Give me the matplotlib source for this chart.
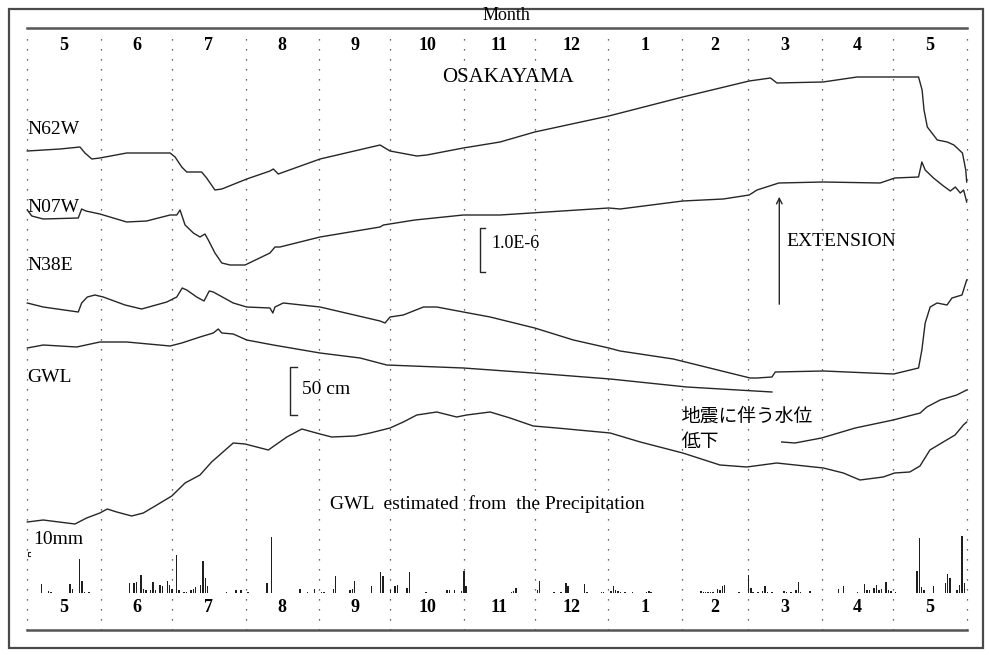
import numpy as np
import matplotlib
matplotlib.use("Agg")
import matplotlib.pyplot as plt
from matplotlib.patches import Rectangle

# month axis (May .. next May), days per month
month_labels = ["5", "6", "7", "8", "9", "10", "11", "12", "1", "2", "3", "4", "5"]
month_days = [31, 30, 31, 31, 30, 31, 30, 31, 31, 28, 31, 30, 31]

# strain traces (day from 1 May, trace level in chart units)
n62w_day = [0, 13.8, 22.2, 24.3, 27.2, 30.6, 41.9, 60.2, 62.3, 65.1, 67.2, 73.5, 75.6, 79.1,
            82.0, 92.5, 102.3, 103.7, 105.8, 123.4, 148.7, 152.9, 164.2, 168.4, 183.8, 199.3,
            213.9, 245.1, 276.3, 304.3, 313.3, 316.0, 335.4, 349.8, 375.7, 377.2, 378.0, 379.4,
            383.6, 387.8, 390.6, 394.2, 395.6, 396]
n62w_val = [479, 481, 483, 477, 471, 472, 477, 477, 473, 463, 458, 458, 452, 440,
            441, 451, 459, 461, 456, 471, 485, 479, 474, 475, 482, 488,
            498, 514, 533, 549, 552, 547, 548, 553, 553, 540, 520, 503,
            490, 488, 485, 477, 460, 448]

n07w_day = [0, 1.9, 6.7, 21.5, 22.9, 24.7, 30.6, 41.9, 50.3, 60.2, 63.0, 64.4, 66.5, 70.0,
            72.8, 74.9, 76.3, 79.1, 82.0, 85.5, 91.8, 102.3, 104.4, 106.5, 123.4, 148.7,
            150.1, 163.4, 183.8, 199.3, 245.1, 249.9, 276.3, 293.4, 304.3, 307.6, 316.8,
            335.4, 359.5, 365.7, 375.7, 377.1, 378.5, 382.0, 386.2, 389.1, 391.2, 393.3,
            394.7, 396]
n07w_val = [420, 414, 411, 412, 421, 419, 416, 408, 409, 415, 415, 420, 405, 397,
            393, 396, 390, 377, 367, 365, 365, 377, 383, 383, 393, 403,
            405, 410, 415, 415, 422, 421, 429, 431, 435, 440, 447,
            448, 447, 452, 453, 468, 460, 452, 444, 439, 443, 437,
            440, 428]

n38e_day = [0, 6.7, 21.5, 22.9, 25.3, 28.5, 32.0, 41.2, 48.2, 58.8, 63.0, 65.3, 67.2, 71.4,
            74.5, 76.7, 78.4, 86.8, 92.5, 102.3, 103.5, 104.4, 107.9, 123.4, 148.7, 150.8,
            152.9, 158.5, 167.0, 172.6, 183.8, 195.1, 213.9, 230.2, 245.1, 249.9, 272.3,
            304.7, 307.6, 313.9, 315.3, 335.7, 365.2, 375.7, 377.1, 378.5, 380.6, 383.5,
            387.7, 389.8, 394.0, 396]
n38e_val = [327, 323, 318, 327, 333, 335, 333, 325, 321, 328, 333, 342, 340, 333,
            329, 339, 338, 327, 323, 322, 317, 323, 327, 323, 309, 307,
            313, 315, 323, 323, 318, 313, 302, 290, 282, 279, 271,
            252, 252, 253, 258, 259, 256, 262, 280, 307, 323, 327,
            325, 332, 335, 350]

# observed ground water level
gwl_day = [0, 6.7, 20.8, 30.6, 41.9, 60.2, 65.1, 72.8, 78.4, 80.5, 82.0, 86.8, 92.5, 103.7,
           123.4, 140.3, 151.5, 183.8, 213.3, 245.7, 278.0, 313.9]
gwl_val = [282, 285, 283, 288, 288, 284, 287, 293, 297, 301, 297, 296, 290, 285,
           277, 272, 265, 262, 257, 251, 243, 238]

# GWL estimated from precipitation
est_day = [0, 6.7, 20.1, 25.0, 30.6, 33.7, 37.7, 44.0, 48.9, 54.6, 60.9, 66.5, 72.8, 77.7,
           86.8, 91.8, 101.6, 109.4, 115.7, 123.4, 128.3, 138.2, 144.5, 152.9, 158.5, 164.2,
           172.6, 181.0, 185.2, 195.1, 203.5, 213.3, 223.2, 245.7, 258.4, 276.3, 292.0,
           303.3, 315.9, 335.6, 344.0, 351.0, 360.8, 365.6, 372.0, 376.3, 380.5, 386.1,
           391.1, 394.6, 396]
est_val = [108, 110, 106, 112, 117, 121, 118, 114, 117, 125, 134, 147, 155, 168,
           187, 186, 180, 193, 201, 196, 193, 194, 197, 202, 208, 215,
           218, 213, 215, 218, 212, 204, 202, 197, 188, 177, 165,
           163, 167, 162, 157, 150, 153, 157, 158, 164, 180, 188,
           195, 205, 208]

# GWL after the earthquake drop
post_day = [318.0, 323.6, 334.8, 349.0, 365.0, 376.4, 379.2, 384.8, 391.8, 396]
post_val = [188, 187, 192, 202, 210, 217, 223, 230, 235, 240]

# daily precipitation (mm)
rain_day = [6, 9, 10, 13, 18, 19, 22, 23, 24, 26,
            43, 45, 46, 48, 49, 50, 52, 53, 54, 56, 57, 59, 60, 61,
            63, 64, 66, 67, 69, 70, 71, 73, 74, 75, 76, 84, 88, 90, 93,
            101, 103, 115, 118, 121,
            124, 125, 129, 130, 136, 137, 138, 145, 149, 150, 153,
            155, 156, 160, 161, 168, 177, 178, 180, 183, 184, 185,
            196, 204, 205, 206,
            215, 216, 222, 225, 227, 228, 235, 236, 242, 243,
            246, 247, 248, 249, 250, 252, 253, 255, 261, 262, 263,
            284, 285, 286, 287, 288, 289, 291, 292, 293, 294, 300,
            304, 305, 306, 308, 310, 311, 312, 314, 319, 320, 322, 324, 325, 326, 330,
            342, 344, 350, 353, 354, 355, 357, 358, 359, 360, 362, 363, 364, 366,
            375, 376, 377, 378, 382, 387, 388, 389, 392, 393, 394, 395]
rain_mm = [26, 5, 3, 1, 26, 12, 101, 35, 3, 2,
           30, 30, 32, 53, 12, 8, 10, 32, 8, 25, 22, 35, 25, 12,
           113, 8, 3, 2, 10, 12, 18, 25, 97, 45, 22, 2, 8, 10, 3,
           30, 168, 12, 2, 12,
           3, 2, 12, 52, 8, 12, 35, 22, 62, 52, 10,
           22, 25, 15, 62, 2, 8, 8, 10, 5, 67, 22,
           1, 3, 5, 15,
           10, 35, 2, 2, 30, 20, 28, 3, 2, 3,
           5, 20, 10, 5, 2, 2, 1, 2, 2, 5, 2,
           5, 4, 2, 2, 2, 4, 12, 10, 22, 25, 2,
           53, 15, 3, 2, 5, 22, 3, 2, 5, 3, 2, 8, 32, 3, 5,
           12, 20, 2, 28, 10, 8, 15, 25, 10, 12, 32, 10, 5, 2,
           65, 165, 18, 8, 22, 30, 58, 45, 8, 25, 172, 30]

W, H = 989, 655
fig = plt.figure(figsize=(W / 100, H / 100), dpi=100)
serif = "Liberation Serif"
ink = "#262626"

# outer frame
fig.add_artist(Rectangle((9 / W, 7 / H), 974 / W, 639 / H, transform=fig.transFigure,
                         fill=False, ec="#4a4a4a", lw=1.6))

ax = fig.add_axes([27.3 / W, 25 / H, 939.4 / W, 602 / H])
ax.set_xlim(0, sum(month_days))
ax.set_ylim(0, 602)
ax.axis("off")

edges = np.concatenate([[0], np.cumsum(month_days)])
for e in edges:
    ax.plot([e, e], [0, 599], color="#333333", lw=0.9, ls=(0, (1, 7)), clip_on=False)
ax.plot([0, edges[-1]], [602, 602], color="#555555", lw=1.8, clip_on=False)
ax.plot([0, edges[-1]], [0, 0], color="#555555", lw=1.8, clip_on=False)

centers = (edges[:-1] + edges[1:]) / 2
for c, m in zip(centers, month_labels):
    ax.text(c, 585, m, ha="center", va="center", fontsize=13, family=serif,
            weight="bold", color="black")
    ax.text(c, 22, m, ha="center", va="center", fontsize=13, family=serif,
            weight="bold", color="black")

fig.text(506 / W, 1 - 16 / H, "Month", ha="center", va="center", fontsize=13,
         family=serif)

for d, v in [(n62w_day, n62w_val), (n07w_day, n07w_val), (n38e_day, n38e_val),
             (gwl_day, gwl_val), (est_day, est_val), (post_day, post_val)]:
    ax.plot(d, v, color=ink, lw=1.0, clip_on=False)

ax.text(202.7, 552, "OSAKAYAMA", ha="center", va="center", fontsize=15, family=serif)
for lab, y in [("N62W", 500), ("N07W", 423), ("N38E", 365), ("GWL", 253)]:
    ax.text(0, y, lab, ha="left", va="center", fontsize=14, family=serif)

# scale bars
ax.plot([193.0, 190.9, 190.9, 193.0], [402, 402, 358, 358], color=ink, lw=1.0)
ax.text(195.5, 387, "1.0E-6", ha="left", va="center", fontsize=13, family=serif)
ax.plot([113.7, 110.7, 110.7, 113.7], [263, 263, 215, 215], color=ink, lw=1.0)
ax.text(115.7, 240, "50 cm", ha="left", va="center", fontsize=14, family=serif)

ax.annotate("", xy=(317.0, 436), xytext=(317.0, 323),
            arrowprops=dict(arrowstyle="->", lw=1.0, color=ink, mutation_scale=10))
ax.text(320.2, 388, "EXTENSION", ha="left", va="center", fontsize=14, family=serif)

jp = ["Noto Sans CJK JP", "DejaVu Sans"]
ax.text(275.9, 214, "地震に伴う水位", ha="left", va="center", fontsize=13.5, family=jp)
ax.text(275.9, 189, "低下", ha="left", va="center", fontsize=13.5, family=jp)

ax.text(127.6, 126, "GWL  estimated  from  the Precipitation", ha="left", va="center",
        fontsize=14, family=serif)
ax.text(2.4, 91, "10mm", ha="left", va="center", fontsize=14, family=serif)

# precipitation bars
pax = fig.add_axes([27.3 / W, (H - 593) / H, 939.4 / W, 63 / H])
pax.set_xlim(0, sum(month_days))
pax.set_ylim(0, 189)
pax.axis("off")
pax.patch.set_alpha(0)
pax.bar(rain_day, rain_mm, width=0.6, color="#1e1e1e", linewidth=0)
pax.plot([1.3, 0.2, 0.2, 1.3], [122, 122, 112, 112], color=ink, lw=0.8, clip_on=False)

fig.savefig("out.png", dpi=100)
